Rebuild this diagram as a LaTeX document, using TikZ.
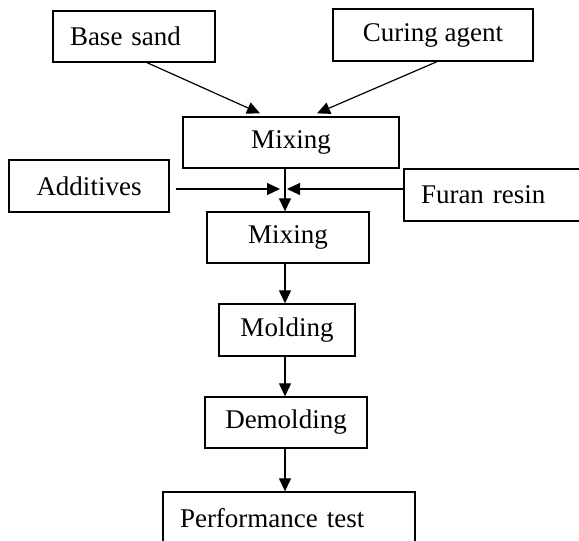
\documentclass[tikz,border=0pt]{standalone}
\usepackage{fontspec}
\setmainfont{Liberation Serif}
\usetikzlibrary{arrows.meta,calc}
\begin{document}
\begin{tikzpicture}[x=0.5pt,y=-0.5pt,
		every node/.style={draw=black,line width=0.65pt,inner sep=0pt,font=\fontsize{13.5}{16}\selectfont},
		leftbox/.style={align=left,inner xsep=8.5pt},
		arr/.style={line width=0.6pt,-{Triangle[length=6.5pt,width=6pt]}}]
			\useasboundingbox (0,0) rectangle (579,541);
			\clip (0,0) rectangle (579,541);
			\coordinate (spine) at (285,0);
			\coordinate (jn) at (285,189);

			%input nodes
			\node [leftbox,text width=64pt,minimum height=25.5pt] (sand) at (134,36.5) {Base sand};
			\node [minimum width=100pt,minimum height=26pt] (cure) at (433,35) {Curing agent};
			\node [minimum width=80pt,minimum height=26pt] (add) at (89,186) {Additives};
			\node [leftbox,text width=91pt,minimum height=26pt] (furan) at (512,195) {Furan resin};

			%process nodes
			\node [minimum width=108pt,minimum height=25.5pt] (mix1) at (291,142.5) {Mixing};
			\node [minimum width=81pt,minimum height=25.5pt] (mix2) at (288,237.5) {Mixing};
			\node [minimum width=68pt,minimum height=26pt] (mold) at (287,330) {Molding};
			\node [minimum width=81pt,minimum height=25.5pt] (demold) at (286,422.5) {Demolding};
			\node [leftbox,text width=109pt,minimum height=26pt] (perf) at (289,518) {Performance test};

			%edges
			\draw[arr] ([xshift=6.5pt]sand.south) -- ([xshift=-15.5pt,yshift=1.5pt]mix1.north);
			\draw[arr] ([xshift=2pt]cure.south) -- ([xshift=13pt,yshift=1.5pt]mix1.north);
			\draw[arr] (mix1.south -| spine) -- (mix2.north -| spine);
			\draw[arr] ($(add.east |- jn)+(6,0)$) -- ($(jn)+(-5,0)$);
			\draw[arr] (furan.west |- jn) -- ($(jn)+(2,0)$);
			\draw[arr] (mix2.south -| spine) -- (mold.north -| spine);
			\draw[arr] (mold.south -| spine) -- (demold.north -| spine);
			\draw[arr] (demold.south -| spine) -- (perf.north -| spine);
		\end{tikzpicture}
\end{document}
